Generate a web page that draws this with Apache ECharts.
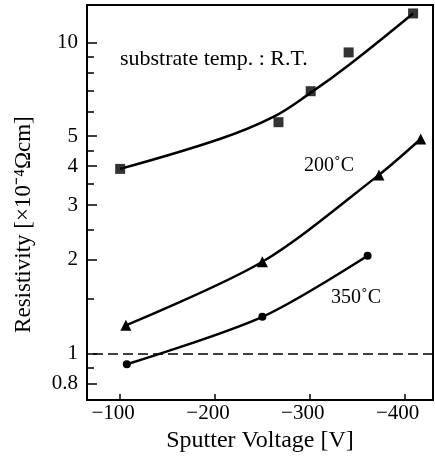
<!DOCTYPE html>
<html>
<head>
<meta charset="utf-8">
<script src="https://cdn.jsdelivr.net/npm/echarts@6/dist/echarts.min.js"></script>
<style>
  html, body { margin: 0; padding: 0; background: #fff; }
  #chart { width: 435px; height: 458px; }
</style>
</head>
<body>
<div id="chart"></div>
<script>
  // sputter voltage [V] and resistivity [x10^-4 ohm cm]
  var rtVolt = [-100, -267, -301, -341, -409];
  var rtRes = [3.92, 5.54, 6.97, 9.29, 12.4];
  // hand drawn curve through the R.T. points
  var rtCurveVolt = [-100, -205, -261, -300, -342, -409];
  var rtCurveRes = [3.92, 4.89, 5.75, 6.86, 8.5, 12.4];
  var t200Volt = [-106, -250, -373, -417];
  var t200Res = [1.23, 1.97, 3.75, 4.89];
  var t350Volt = [-107, -250, -361];
  var t350Res = [0.922, 1.31, 2.06];

  var xTicks = [-100, -200, -300, -400];
  var yLabels = [0.8, 1, 2, 3, 4, 5, 10];
  var yMinorTicks = [0.9, 1.5, 2.5, 3.5, 4.5, 6, 7, 8, 9];
  var refLine = 1;

  function pairs(xs, ys) {
    var out = [];
    for (var i = 0; i < xs.length; i++) out.push([xs[i], ys[i]]);
    return out;
  }

  var font = 'Liberation Serif';
  var chart = echarts.init(document.getElementById('chart'));
  var option = {
    animation: false,
    grid: {
      left: 87, right: 2, top: 5, bottom: 56,
      show: true, borderColor: '#000', borderWidth: 2
    },
    xAxis: {
      type: 'value',
      inverse: true,
      min: -430,
      max: -65,
      splitLine: { show: false },
      axisLine: { show: true, onZero: false, lineStyle: { color: '#000', width: 2 } },
      axisTick: { inside: true, length: 6, customValues: xTicks, lineStyle: { color: '#000', width: 1.5 } },
      axisLabel: {
        customValues: xTicks,
        margin: 3,
        color: '#000',
        fontFamily: font,
        fontSize: 21,
        padding: [0, 14, 0, 0],
        formatter: function (v) { return '\u2212' + Math.abs(v); }
      },
      name: 'Sputter Voltage [V]',
      nameLocation: 'middle',
      nameGap: 28,
      nameTextStyle: { color: '#000', fontFamily: font, fontSize: 24 }
    },
    yAxis: [{
      type: 'log',
      logBase: 10,
      min: 0.707,
      max: 13.2,
      splitLine: { show: false },
      axisLine: { show: true, onZero: false, lineStyle: { color: '#000', width: 2 } },
      axisTick: { inside: true, length: 10, customValues: yLabels, lineStyle: { color: '#000', width: 1.5 } },
      axisLabel: {
        customValues: yLabels,
        margin: 9,
        color: '#000',
        fontFamily: font,
        fontSize: 21
      },
      name: 'Resistivity [\u00d710\u207b\u2074\u03a9cm]',
      nameLocation: 'middle',
      nameGap: 52,
      nameTextStyle: { color: '#000', fontFamily: font, fontSize: 23, padding: [0, 44, 0, 0] }
    }, {
      type: 'log',
      logBase: 10,
      min: 0.707,
      max: 13.2,
      position: 'left',
      splitLine: { show: false },
      axisLine: { show: false },
      axisTick: { inside: true, length: 7, customValues: yMinorTicks, lineStyle: { color: '#000', width: 1.5 } },
      axisLabel: { show: false }
    }],
    graphic: [
      { type: 'text', left: 120, top: 48, style: { text: 'substrate temp. : R.T.', font: '22px "Liberation Serif"', fill: '#000' } },
      { type: 'text', left: 304, top: 156, style: { text: '200\u02daC', font: '20px "Liberation Serif"', fill: '#000' } },
      { type: 'text', left: 331, top: 288, style: { text: '350\u02daC', font: '20px "Liberation Serif"', fill: '#000' } }
    ],
    series: [
      {
        type: 'line',
        data: pairs(rtCurveVolt, rtCurveRes),
        smooth: 0.4,
        showSymbol: false,
        lineStyle: { color: '#000', width: 2.5 }
      },
      {
        type: 'scatter',
        data: pairs(rtVolt, rtRes),
        symbol: 'rect',
        symbolSize: 10,
        itemStyle: { color: '#000' }
      },
      {
        type: 'line',
        data: pairs(t200Volt, t200Res),
        smooth: 0.3,
        symbol: 'triangle',
        symbolSize: 11,
        itemStyle: { color: '#000' },
        lineStyle: { color: '#000', width: 2.5 }
      },
      {
        type: 'line',
        data: pairs(t350Volt, t350Res),
        smooth: 0.3,
        symbol: 'circle',
        symbolSize: 8,
        itemStyle: { color: '#000' },
        lineStyle: { color: '#000', width: 2.5 },
        markLine: {
          silent: true,
          symbol: 'none',
          label: { show: false },
          lineStyle: { color: '#000', type: [10, 5], width: 1.5 },
          data: [{ yAxis: refLine }]
        }
      }
    ]
  };
  chart.setOption(option);
</script>
</body>
</html>
